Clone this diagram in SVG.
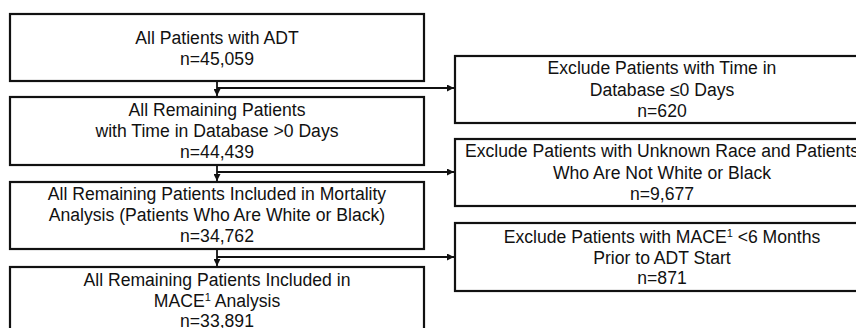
<svg xmlns="http://www.w3.org/2000/svg" width="856" height="328" viewBox="0 0 856 328">
<style>
.box{fill:#fff;stroke:#111;stroke-width:2.2}
.t{font-family:"Liberation Sans",Arial,sans-serif;font-size:17.6px;fill:#111;text-anchor:middle}
.c{fill:none;stroke:#111;stroke-width:1.8}
.sup{font-size:11px}
</style>
<defs>
<marker id="ah" viewBox="0 0 10 10" refX="10" refY="5" markerWidth="7" markerHeight="7" markerUnits="userSpaceOnUse" orient="auto">
<path d="M0,0 L10,5 L0,10 z" fill="#111"/>
</marker>
</defs>
<rect width="856" height="328" fill="#fff"/>
<g id="connectors">
<path class="c" d="M217,81 V96" marker-end="url(#ah)"/>
<path class="c" d="M217,88 H454" marker-end="url(#ah)"/>
<path class="c" d="M217,165 V181" marker-end="url(#ah)"/>
<path class="c" d="M217,172 H454" marker-end="url(#ah)"/>
<path class="c" d="M217,249 V266" marker-end="url(#ah)"/>
<path class="c" d="M217,257 H454" marker-end="url(#ah)"/>
</g>
<g id="n1">
<rect class="box" x="10" y="14" width="414" height="67"/>
<text class="t" x="217" y="44">All Patients with ADT</text>
<text class="t" x="217" y="65">n=45,059</text>
</g>
<g id="n2">
<rect class="box" x="10" y="97" width="414" height="68"/>
<text class="t" x="217" y="116">All Remaining Patients</text>
<text class="t" x="217" y="137">with Time in Database &gt;0 Days</text>
<text class="t" x="217" y="158">n=44,439</text>
</g>
<g id="n3">
<rect class="box" x="10" y="182" width="414" height="67"/>
<text class="t" x="217" y="200">All Remaining Patients Included in Mortality</text>
<text class="t" x="217" y="221">Analysis (Patients Who Are White or Black)</text>
<text class="t" x="217" y="242">n=34,762</text>
</g>
<g id="n4">
<rect class="box" x="10" y="267" width="414" height="70"/>
<text class="t" x="217" y="286">All Remaining Patients Included in</text>
<text class="t" x="217" y="307">MACE<tspan class="sup" dy="-6">1</tspan><tspan dy="6"> Analysis</tspan></text>
<text class="t" x="217" y="327">n=33,891</text>
</g>
<g id="r1">
<rect class="box" x="455" y="56" width="420" height="67"/>
<text class="t" x="662" y="74">Exclude Patients with Time in</text>
<text class="t" x="662" y="96">Database ≤0 Days</text>
<text class="t" x="662" y="117">n=620</text>
</g>
<g id="r2">
<rect class="box" x="455" y="139" width="420" height="67"/>
<text class="t" x="662" y="157">Exclude Patients with Unknown Race and Patients</text>
<text class="t" x="662" y="179">Who Are Not White or Black</text>
<text class="t" x="662" y="200">n=9,677</text>
</g>
<g id="r3">
<rect class="box" x="455" y="223" width="420" height="68"/>
<text class="t" x="662" y="243">Exclude Patients with MACE<tspan class="sup" dy="-6">1</tspan><tspan dy="6"> &lt;6 Months</tspan></text>
<text class="t" x="662" y="264">Prior to ADT Start</text>
<text class="t" x="662" y="284">n=871</text>
</g>
</svg>
